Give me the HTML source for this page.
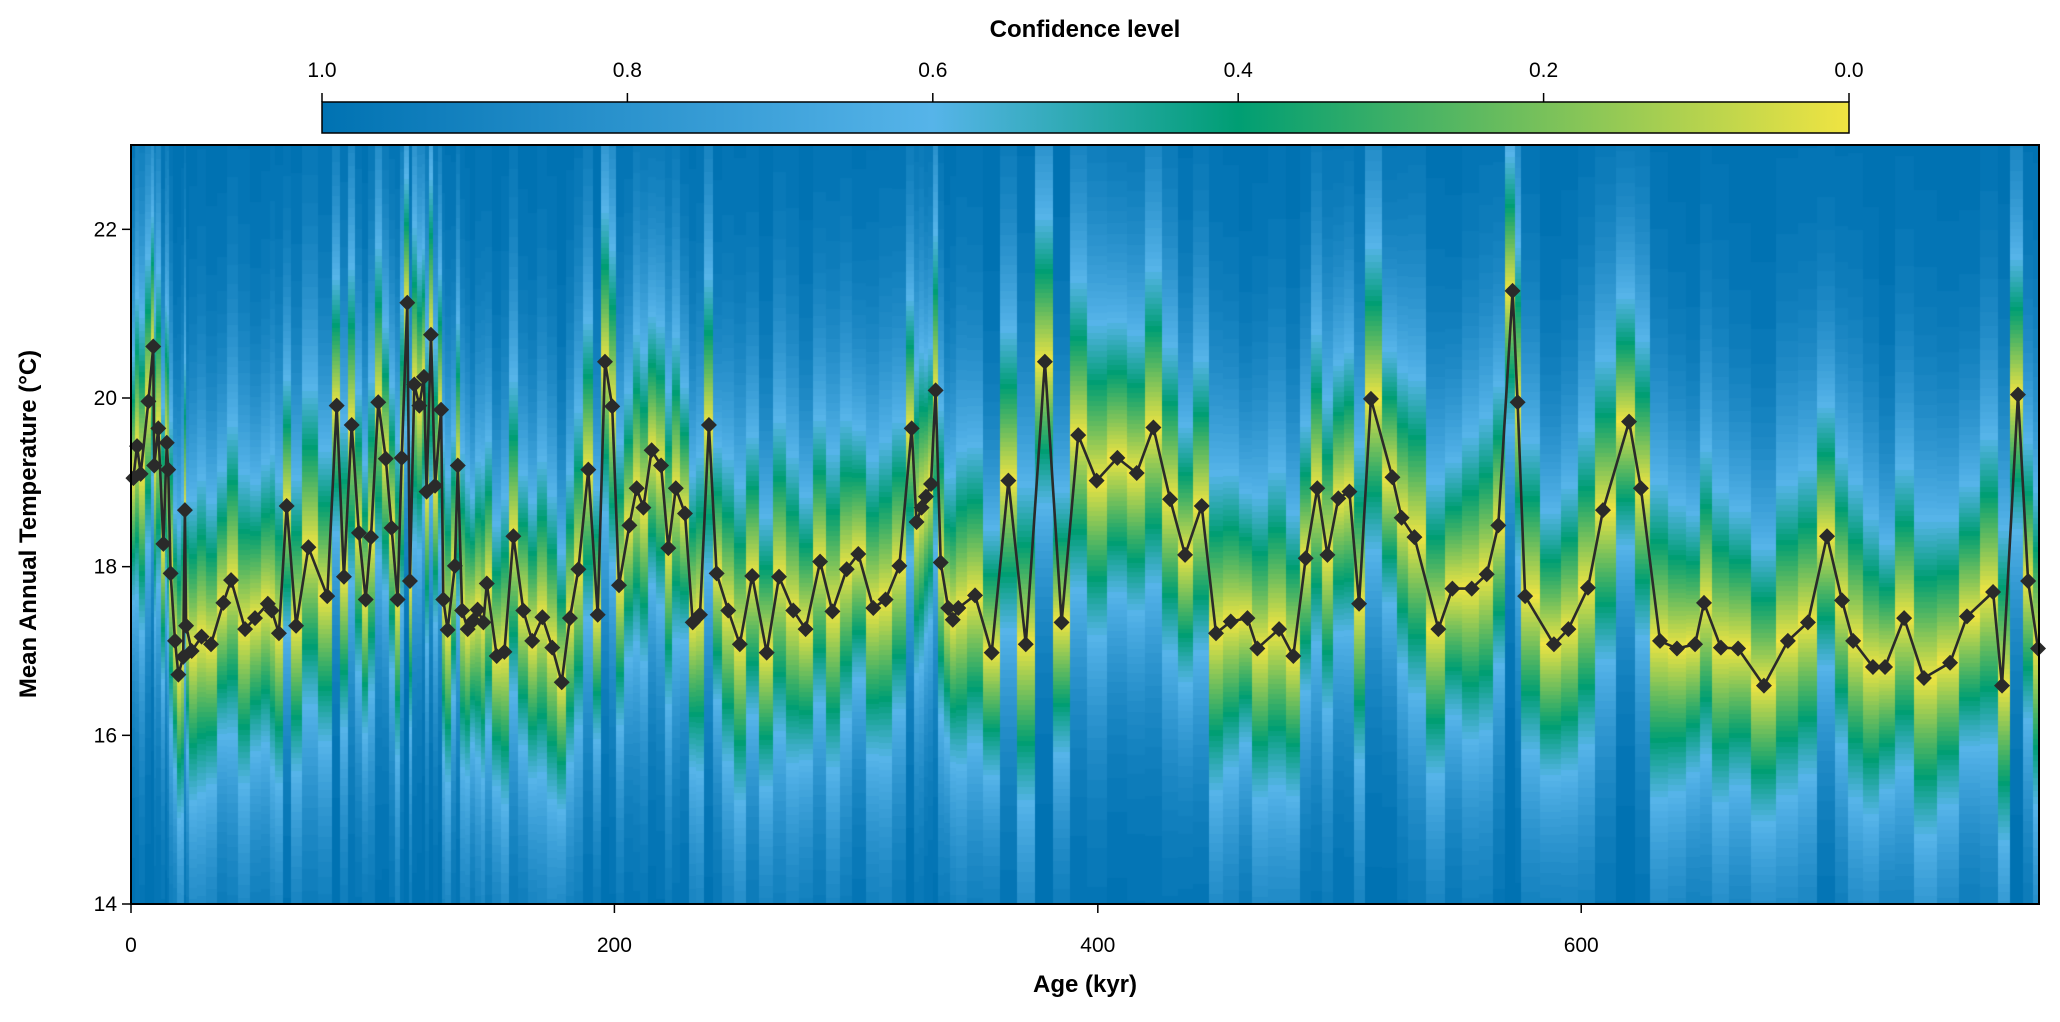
<!DOCTYPE html>
<html><head><meta charset="utf-8">
<style>
html,body{margin:0;padding:0;background:#fff;}
#wrap{position:relative;width:2060px;height:1022px;overflow:hidden;font-family:"Liberation Sans",Arial,sans-serif;}
canvas{position:absolute;left:0;top:0;}
svg{position:absolute;left:0;top:0;}
</style></head>
<body>
<div id="wrap">
<canvas id="heat" width="2060" height="1022"></canvas>
<svg id="svg" width="2060" height="1022" xmlns="http://www.w3.org/2000/svg">
<defs>
<linearGradient id="cbar" x1="0" x2="1" y1="0" y2="0">
<stop offset="0" stop-color="#0072B2"/>
<stop offset="0.4" stop-color="#56B4E9"/>
<stop offset="0.6" stop-color="#009E73"/>
<stop offset="1" stop-color="#F0E442"/>
</linearGradient>
</defs>
<text x="1085" y="37" text-anchor="middle" font-size="24" font-weight="bold">Confidence level</text>
<rect x="322" y="102" width="1527" height="31" fill="url(#cbar)" stroke="#000" stroke-width="1.5"/>
<g id="cbticks"></g>
<g id="series"></g>
<rect x="131" y="145" width="1908" height="759" fill="none" stroke="#000" stroke-width="2"/>
<g id="axes"></g>
<text x="1085" y="992" text-anchor="middle" font-size="24" font-weight="bold">Age (kyr)</text>
<text transform="translate(36,524) rotate(-90)" text-anchor="middle" font-size="24" font-weight="bold">Mean Annual Temperature (°C)</text>
</svg>
</div>
<script>
const ages = [1,2.5,4,7.2,9.2,9.6,11.3,13.4,14.8,15.4,16.4,18.2,19.6,21.6,22.3,22.8,25.1,29.2,33.1,38.2,41.4,47.2,51.3,56.6,58.2,61.2,64.4,68.3,73.4,81.2,85.1,88.1,91.3,94.3,97.1,99.3,102.3,105.4,107.8,110.3,112,114.3,115.4,117.2,119.3,121.2,122.3,124.1,125.8,128.3,129.2,131,134,135.2,137,139.3,141.6,143.4,145.8,147.2,151.3,154.5,158.2,162.3,166,170.2,174.3,178.2,181.6,185.1,189.2,193.1,196.1,199.1,201.9,206.2,209.2,212,215.4,219.3,222.3,225.4,229.2,232.4,235.4,239.1,242.3,247.1,251.9,257,263,268.1,274,279.1,285.1,290.2,296.1,300.9,307.1,312.2,317.9,323,325,327.1,328.9,331,332.9,335,338.1,340,342.3,349.2,356.1,363,370.2,378.1,385,391.9,399.5,408.1,416.1,423,429.9,436.1,443,448.9,455,461.9,466,475,480.9,486,490.8,495,499.5,504.1,508.1,513,521.9,525.7,531,540.9,546.7,554.7,560.9,565.7,571.6,573.7,576.8,588.7,594.7,602.8,609,619.8,624.7,632.6,639.6,647.1,650.8,657.8,664.9,675.6,685.5,693.8,701.7,707.9,712.5,720.7,725.7,733.6,741.8,752.6,759.6,770.4,774.1,780.7,784.9,789];
const temps = [19.05,19.43,19.1,19.96,20.61,19.2,19.64,18.27,19.47,19.15,17.92,17.12,16.72,16.93,18.67,17.3,17.0,17.17,17.08,17.57,17.84,17.26,17.39,17.56,17.48,17.21,18.72,17.3,18.23,17.65,19.91,17.88,19.68,18.4,17.61,18.35,19.95,19.28,18.46,17.61,19.29,21.13,17.83,20.16,19.91,20.25,18.89,20.75,18.96,19.86,17.61,17.25,18.01,19.2,17.48,17.26,17.36,17.49,17.34,17.8,16.94,16.99,18.36,17.48,17.12,17.4,17.04,16.63,17.39,17.97,19.15,17.43,20.43,19.9,17.78,18.49,18.93,18.7,19.38,19.2,18.22,18.93,18.63,17.34,17.43,19.68,17.92,17.48,17.08,17.89,16.98,17.88,17.48,17.26,18.06,17.47,17.97,18.15,17.51,17.61,18.01,19.64,18.53,18.7,18.83,18.98,20.09,18.05,17.51,17.37,17.51,17.66,16.98,19.02,17.08,20.43,17.34,19.56,19.02,19.29,19.11,19.65,18.8,18.14,18.72,17.21,17.35,17.39,17.03,17.26,16.94,18.1,18.93,18.14,18.81,18.89,17.56,19.99,19.06,18.58,18.35,17.26,17.74,17.74,17.91,18.49,21.27,19.95,17.65,17.08,17.26,17.75,18.67,19.72,18.93,17.12,17.03,17.08,17.57,17.04,17.03,16.59,17.12,17.34,18.36,17.6,17.12,16.81,16.81,17.39,16.68,16.86,17.41,17.7,16.59,20.04,17.83,17.03];
const xTicks = [0,200,400,600];
const yTicks = [14,16,18,20,22];
const cbTicks = [1.0,0.8,0.6,0.4,0.2,0.0];

const L=131,R=2039,T=145,B=904,XMAX=789.4,YMIN=14,YMAX=23;
const xs = v => L + (v/XMAX)*(R-L);
const ys = v => B - (v-YMIN)/(YMAX-YMIN)*(B-T);
const NS='http://www.w3.org/2000/svg';
function mk(tag,attrs,parent){const e=document.createElementNS(NS,tag);for(const k in attrs)e.setAttribute(k,attrs[k]);parent.appendChild(e);return e;}

const stops=[[0,[240,228,66]],[0.4,[0,158,115]],[0.6,[86,180,233]],[1,[0,114,178]]];
function cmap(c){
  for(let i=0;i<stops.length-1;i++){const a=stops[i],b=stops[i+1];
    if(c<=b[0]){const t=(c-a[0])/(b[0]-a[0]);return a[1].map((v,j)=>Math.round(v+(b[1][j]-v)*t));}}
  return stops[3][1];
}
function erf(x){const t=1/(1+0.3275911*x);return 1-(((((1.061405429*t-1.453152027)*t)+1.421413741)*t-0.284496736)*t+0.254829592)*t*Math.exp(-x*x);}
const ctx=document.getElementById('heat').getContext('2d');
const img=ctx.createImageData(R-L,B-T);
for(let i=0;i<ages.length;i++){
  const a0=i===0?0:(ages[i-1]+ages[i])/2;
  const a1=i===ages.length-1?XMAX:(ages[i]+ages[i+1])/2;
  const px0=Math.round(xs(a0))-L, px1=Math.round(xs(a1))-L;
  const s=1.75+0.5*Math.abs(Math.sin(i*2.3));
  for(let py=0;py<B-T;py++){
    const tv=YMAX-(py+0.5)/(B-T)*(YMAX-YMIN);
    const d=Math.abs(tv-temps[i]);
    const c=erf(d/(s*Math.SQRT2));
    const col=cmap(Math.round(c*50)/50);
    for(let px=Math.max(0,px0);px<Math.min(R-L,px1);px++){
      const k=(py*(R-L)+px)*4;img.data[k]=col[0];img.data[k+1]=col[1];img.data[k+2]=col[2];img.data[k+3]=255;}
  }
}
ctx.putImageData(img,L,T);

const sg=document.getElementById('series');
const line=mk('polyline',{points:ages.map((a,i)=>xs(a).toFixed(1)+','+ys(temps[i]).toFixed(1)).join(' '),fill:'none',stroke:'#2a2a2a','stroke-width':2.6,'stroke-linejoin':'round'},sg);


ages.forEach((a,i)=>{
  const x=xs(a),y=ys(temps[i]),h=8;
  const p=mk('polygon',{points:`${x},${y-h} ${x+h},${y} ${x},${y+h} ${x-h},${y}`,fill:'#2a2a2a'},sg);
  
  
});

const ag=document.getElementById('axes');
xTicks.forEach(v=>{
  const t=mk('line',{x1:xs(v),x2:xs(v),y1:B,y2:B+9,stroke:'#000','stroke-width':1.5},ag);
  
  
  const l=mk('text',{x:xs(v),y:952,'text-anchor':'middle','font-size':21},ag);l.textContent=v;
  
  
});
yTicks.forEach(v=>{
  const t=mk('line',{x1:L-9,x2:L,y1:ys(v),y2:ys(v),stroke:'#000','stroke-width':1.5},ag);
  
  
  const l=mk('text',{x:L-14,y:ys(v)+7,'text-anchor':'end','font-size':21},ag);l.textContent=v;
  
  
});
const cg=document.getElementById('cbticks');
cbTicks.forEach(v=>{
  const x=322+(1-v)*1527;
  const t=mk('line',{x1:x,x2:x,y1:93,y2:102,stroke:'#000','stroke-width':1.5},cg);
  
  
  const l=mk('text',{x:x,y:77,'text-anchor':'middle','font-size':21},cg);l.textContent=v.toFixed(1);
  
  
});
</script>
</body></html>
